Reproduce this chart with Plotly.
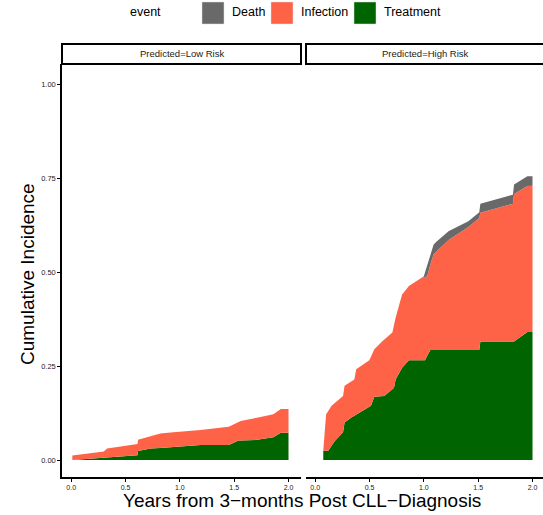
import plotly.graph_objects as go

W, H = 543, 515

# ---------------- data ----------------
events = ["Death", "Infection", "Treatment"]
colors = {"Death": "#696969", "Infection": "#FF6347", "Treatment": "#006400"}
panels = ["Predicted=Low Risk", "Predicted=High Risk"]

# Low risk panel: cumulative incidence by event
low_t = [0.01, 0.30, 0.33, 0.61, 0.615, 0.73, 0.82, 0.94, 1.10, 1.19, 1.45, 1.54, 1.56, 1.71, 1.86, 1.93, 2.00]
low_treatment = [0.000, 0.006, 0.007, 0.013, 0.024, 0.031, 0.032, 0.034, 0.038, 0.040, 0.040, 0.052, 0.052, 0.054, 0.061, 0.073, 0.073]
low_infection = [0.012, 0.017, 0.024, 0.030, 0.030, 0.033, 0.039, 0.040, 0.039, 0.040, 0.049, 0.049, 0.052, 0.059, 0.061, 0.063, 0.063]
low_death = [0.0] * 17

# High risk panel
high_t = [0.074, 0.10, 0.12, 0.15, 0.18, 0.256, 0.27, 0.33, 0.36, 0.377, 0.498, 0.513, 0.544, 0.62, 0.635,
          0.71, 0.725, 0.74, 0.786, 0.80, 0.862, 0.98, 1.00, 1.01, 1.03, 1.06, 1.07, 1.09, 1.12, 1.21,
          1.23, 1.41, 1.50, 1.51, 1.52, 1.82, 1.83, 1.953, 2.00]
high_treatment = [0.025, 0.025, 0.025, 0.038, 0.051, 0.074, 0.100, 0.113, 0.118, 0.121, 0.142, 0.145, 0.169, 0.170, 0.171,
                  0.189, 0.193, 0.215, 0.242, 0.246, 0.266, 0.266, 0.266, 0.266, 0.277, 0.293, 0.293, 0.293, 0.293, 0.293,
                  0.293, 0.293, 0.293, 0.293, 0.316, 0.316, 0.316, 0.341, 0.341]
high_infection = [0.000, 0.097, 0.106, 0.107, 0.101, 0.097, 0.098, 0.096, 0.097, 0.121, 0.124, 0.130, 0.126, 0.147, 0.150,
                  0.151, 0.167, 0.164, 0.185, 0.195, 0.198, 0.220, 0.221, 0.222, 0.213, 0.228, 0.237, 0.255, 0.264, 0.290,
                  0.294, 0.328, 0.348, 0.352, 0.343, 0.367, 0.393, 0.389, 0.390]
high_death = [0.0] * 22 + [0.003, 0.012, 0.030, 0.030, 0.031, 0.026, 0.026, 0.022,
                           0.023, 0.015, 0.017, 0.015, 0.024, 0.024, 0.025, 0.026, 0.025]

x_ticks = [0, 0.5, 1.0, 1.5, 2.0]
x_ticktext = ["0.0", "0.5", "1.0", "1.5", "2.0"]
y_ticks = [0, 0.25, 0.5, 0.75, 1.0]
y_ticktext = ["0.00", "0.25", "0.50", "0.75", "1.00"]

FONT = "Liberation Sans, Arial, Helvetica, sans-serif"

def px(x):
    return x / W

def py(y):
    return 1 - y / H

fig = go.Figure()

panel_data = [
    (low_t, {"Treatment": low_treatment, "Infection": low_infection, "Death": low_death}, "x", "y"),
    (high_t, {"Treatment": high_treatment, "Infection": high_infection, "Death": high_death}, "x2", "y2"),
]
for i, (t, series, xa, ya) in enumerate(panel_data):
    for ev in ["Treatment", "Infection", "Death"]:
        fig.add_trace(go.Scatter(
            x=t, y=series[ev], xaxis=xa, yaxis=ya, mode="lines",
            stackgroup=f"s{i}", line=dict(width=0, color=colors[ev]),
            fillcolor=colors[ev], showlegend=False, hoverinfo="skip", name=ev))

# axis layout
x_left = [62, 301]
x_right = [306, 543]
y_top, y_bot = 64, 477
xr = [-0.085, 2.115]
scale = (x_left[1] - x_left[0]) / (xr[1] - xr[0])
xr2 = [xr[0], xr[0] + (x_right[1] - x_right[0]) / scale]

tickfont = dict(family=FONT, size=7, color="#222222")
common_x = dict(showgrid=False, zeroline=False, showline=True, linecolor="black", linewidth=1.5,
                ticks="outside", ticklen=3, tickwidth=1, tickcolor="black",
                tickvals=x_ticks, ticktext=x_ticktext, tickfont=tickfont)
fig.update_layout(
    xaxis=dict(domain=[px(x_left[0]), px(x_left[1])], range=xr, anchor="y", **common_x),
    xaxis2=dict(domain=[px(x_right[0]), px(x_right[1])], range=xr2, anchor="y2", **common_x),
    yaxis=dict(domain=[py(y_bot), py(y_top)], range=[-0.045, 1.055], anchor="x",
               showgrid=False, zeroline=False, showline=True, linecolor="black", linewidth=1.5,
               ticks="outside", ticklen=3, tickwidth=1, tickcolor="black",
               tickvals=y_ticks, ticktext=y_ticktext, tickfont=dict(family=FONT, size=7.5, color="#222222")),
    yaxis2=dict(domain=[py(y_bot), py(y_top)], range=[-0.045, 1.055], anchor="x2",
                showgrid=False, zeroline=False, showline=False, showticklabels=False, ticks=""),
)

shapes = []
annotations = []
# strips
for (x0, x1), label in zip([x_left, [306, 547]], panels):
    shapes.append(dict(type="rect", xref="paper", yref="paper", x0=px(x0), x1=px(x1),
                       y0=py(64), y1=py(44), line=dict(color="black", width=2), fillcolor="white"))
    annotations.append(dict(xref="paper", yref="paper", x=px((x0 + x1) / 2 if x1 < 545 else 425), y=py(54),
                            text=label, showarrow=False, font=dict(family=FONT, size=9.5, color="#1a1a1a"),
                            xanchor="center", yanchor="middle"))

# legend
annotations.append(dict(xref="paper", yref="paper", x=px(128), y=py(12), text="event", showarrow=False,
                        xanchor="left", yanchor="middle", font=dict(family=FONT, size=12.5, color="black")))
legend_pos = {"Death": 202, "Infection": 271, "Treatment": 354}
for ev in events:
    x0 = legend_pos[ev]
    shapes.append(dict(type="rect", xref="paper", yref="paper", x0=px(x0), x1=px(x0 + 22),
                       y0=py(24), y1=py(2), line=dict(color="#dddddd", width=0.5), fillcolor=colors[ev]))
    annotations.append(dict(xref="paper", yref="paper", x=px(x0 + 28), y=py(12), text=ev, showarrow=False,
                            xanchor="left", yanchor="middle", font=dict(family=FONT, size=12.5, color="black")))

# axis titles
annotations.append(dict(xref="paper", yref="paper", x=px(302), y=py(500),
                        text="Years from 3\u2212months Post CLL\u2212Diagnosis", showarrow=False,
                        xanchor="center", yanchor="middle", font=dict(family=FONT, size=19, color="black")))
annotations.append(dict(xref="paper", yref="paper", x=px(27), y=py(274), text="Cumulative Incidence",
                        showarrow=False, textangle=-90, xanchor="center", yanchor="middle",
                        font=dict(family=FONT, size=19, color="black")))

fig.update_layout(
    width=W, height=H, autosize=False,
    margin=dict(l=0, r=0, t=0, b=0),
    paper_bgcolor="white", plot_bgcolor="white",
    shapes=shapes, annotations=annotations, showlegend=False,
    font=dict(family=FONT),
)

fig.write_html("out.html", config={"displayModeBar": False},
               post_script="document.body.style.margin='0';document.body.style.overflow='hidden';")
